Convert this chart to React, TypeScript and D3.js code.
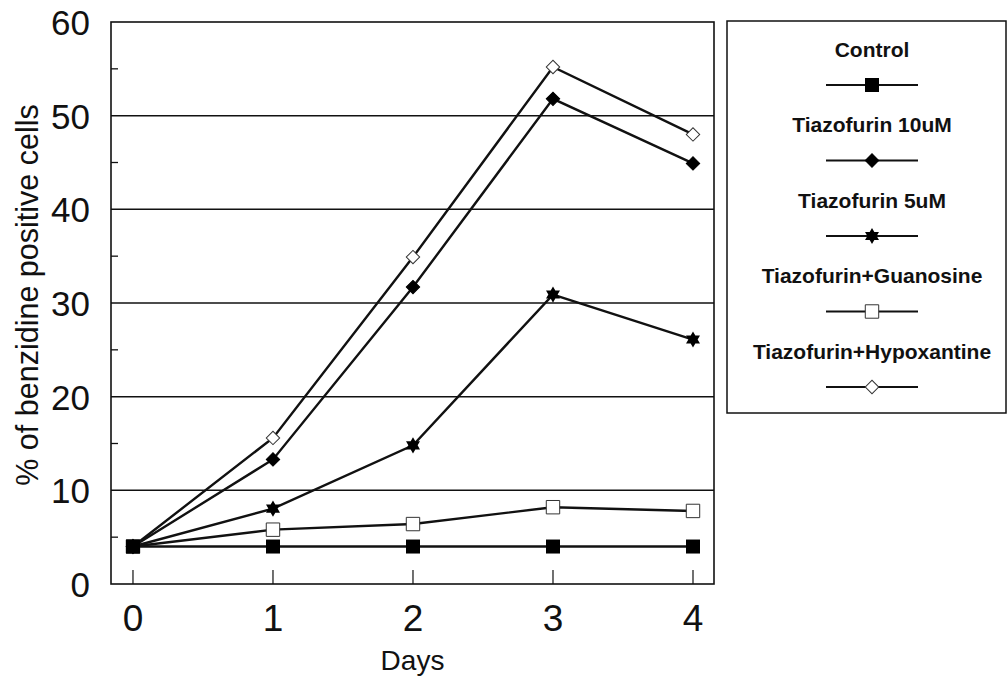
import React, { useEffect, useRef } from 'react'
import * as d3 from 'd3'

// values
const days = [0, 1, 2, 3, 4]
const control = [4, 4, 4, 4, 4]
const tiazo10 = [4, 13.3, 31.7, 51.8, 44.9]
const tiazo5 = [4, 8.05, 14.8, 30.9, 26.1]
const tiazoGuan = [4, 5.8, 6.4, 8.2, 7.8]
const tiazoHypo = [4, 15.6, 34.9, 55.2, 48]
const seriesNames = ['Control', 'Tiazofurin 10uM', 'Tiazofurin 5uM', 'Tiazofurin+Guanosine', 'Tiazofurin+Hypoxantine']
const yTicks = [0, 10, 20, 30, 40, 50, 60]
const yMinorTicks = [5, 15, 25, 35, 45, 55]
const gridTicks = [10, 20, 30, 40, 50]

const font = "'Liberation Sans', Arial, sans-serif"

// six pointed star (two triangles) for the 5uM series
const hexagram = {
    draw(ctx: any, size: number) {
        const R = Math.sqrt(size) / 2
        const r = R / Math.sqrt(3)
        for (let k = 0; k < 12; k++) {
            const a = (-90 + k * 30) * Math.PI / 180
            const rad = k % 2 === 0 ? R : r
            const px = rad * Math.cos(a), py = rad * Math.sin(a)
            if (k === 0) ctx.moveTo(px, py)
            else ctx.lineTo(px, py)
        }
        ctx.closePath()
    }
}

export default function App() {

    const chart = useRef<SVGSVGElement>(null)

    const width = 1008
    const height = 681
    const plot = { left: 111, right: 714, top: 22, bottom: 584 }

    useEffect(() => {
        const svg = d3.select(chart.current)
        svg.selectAll('*').remove()

        const x = d3.scaleLinear()
            .domain([-0.157, 4.15])
            .range([plot.left, plot.right])

        const y = d3.scaleLinear()
            .domain([0, 60])
            .range([plot.bottom, plot.top])

        // marker styles per series
        const styles = [
            { type: d3.symbolSquare, size: 196, rot: 0, fill: '#000', stroke: 'none' },
            { type: d3.symbolSquare, size: 90, rot: 45, fill: '#000', stroke: '#000' },
            { type: hexagram, size: 260, rot: 0, fill: '#000', stroke: 'none' },
            { type: d3.symbolSquare, size: 180, rot: 0, fill: '#fff', stroke: '#333' },
            { type: d3.symbolSquare, size: 90, rot: 45, fill: '#fff', stroke: '#333' },
        ]
        const seriesValues = [control, tiazo10, tiazo5, tiazoGuan, tiazoHypo]

        // gridlines
        svg.append('g')
            .selectAll('line')
            .data(gridTicks)
            .join('line')
            .attr('x1', plot.left)
            .attr('x2', plot.right)
            .attr('y1', d => y(d))
            .attr('y2', d => y(d))
            .attr('stroke', '#111')
            .attr('stroke-width', 1.5)

        // frame
        svg.append('rect')
            .attr('x', plot.left)
            .attr('y', plot.top)
            .attr('width', plot.right - plot.left)
            .attr('height', plot.bottom - plot.top)
            .attr('fill', 'none')
            .attr('stroke', '#111')
            .attr('stroke-width', 1.6)

        // y minor ticks (inside)
        svg.append('g')
            .selectAll('line')
            .data(yMinorTicks)
            .join('line')
            .attr('x1', plot.left)
            .attr('x2', plot.left + 7)
            .attr('y1', d => y(d))
            .attr('y2', d => y(d))
            .attr('stroke', '#111')
            .attr('stroke-width', 1.3)

        // x ticks (inside)
        svg.append('g')
            .selectAll('line')
            .data(days)
            .join('line')
            .attr('x1', d => x(d))
            .attr('x2', d => x(d))
            .attr('y1', plot.bottom)
            .attr('y2', plot.bottom - 14)
            .attr('stroke', '#111')
            .attr('stroke-width', 1.2)

        // y tick labels
        svg.append('g')
            .selectAll('text')
            .data(yTicks)
            .join('text')
            .attr('x', 90)
            .attr('y', d => y(d) + 13)
            .attr('text-anchor', 'end')
            .attr('font-family', font)
            .attr('font-size', 35)
            .attr('fill', '#111')
            .text(d => d)

        // x tick labels
        svg.append('g')
            .selectAll('text')
            .data(days)
            .join('text')
            .attr('x', d => x(d))
            .attr('y', 631)
            .attr('text-anchor', 'middle')
            .attr('font-family', font)
            .attr('font-size', 37)
            .attr('fill', '#111')
            .text(d => d)

        // axis titles
        svg.append('text')
            .attr('x', (plot.left + plot.right) / 2)
            .attr('y', 670)
            .attr('text-anchor', 'middle')
            .attr('font-family', font)
            .attr('font-size', 28)
            .attr('fill', '#111')
            .text('Days')

        svg.append('text')
            .attr('transform', 'translate(38,295) rotate(-90)')
            .attr('text-anchor', 'middle')
            .attr('font-family', font)
            .attr('font-size', 30.5)
            .attr('fill', '#111')
            .text('% of benzidine positive cells')

        const getLine = d3.line<number>()
            .x((d, i) => x(days[i]))
            .y(d => y(d))

        const marker = (s: any) => d3.symbol().type(s.type).size(s.size)()

        // draw series back to front so Control sits on top
        const order = [4, 3, 2, 1, 0]
        order.forEach(k => {
            const s = styles[k]
            const g = svg.append('g')
            g.append('path')
                .datum(seriesValues[k])
                .attr('fill', 'none')
                .attr('stroke', '#111')
                .attr('stroke-width', 2.4)
                .attr('d', getLine)
            g.selectAll('path.pt')
                .data(seriesValues[k])
                .join('path')
                .attr('class', 'pt')
                .attr('transform', (d, i) => `translate(${x(days[i])},${y(d)}) rotate(${s.rot})`)
                .attr('d', marker(s))
                .attr('fill', s.fill)
                .attr('stroke', s.stroke)
                .attr('stroke-width', 1)
        })

        // legend
        const legend = { left: 727, right: 1006, top: 21, bottom: 413, cx: 872 }
        svg.append('rect')
            .attr('x', legend.left)
            .attr('y', legend.top)
            .attr('width', legend.right - legend.left)
            .attr('height', legend.bottom - legend.top)
            .attr('fill', '#fff')
            .attr('stroke', '#111')
            .attr('stroke-width', 1.5)

        const item = svg.append('g')
            .selectAll('g')
            .data(seriesNames)
            .join('g')
            .attr('transform', (d, i) => `translate(${legend.cx},${49 + i * 75.5})`)

        item.append('text')
            .attr('y', 7.5)
            .attr('text-anchor', 'middle')
            .attr('font-family', font)
            .attr('font-weight', 'bold')
            .attr('font-size', 21)
            .attr('fill', '#111')
            .text(d => d)

        item.append('line')
            .attr('x1', -46)
            .attr('x2', 46)
            .attr('y1', 36)
            .attr('y2', 36)
            .attr('stroke', '#111')
            .attr('stroke-width', 2)

        item.append('path')
            .attr('transform', (d, i) => `translate(0,36) rotate(${styles[i].rot})`)
            .attr('d', (d, i) => marker(styles[i]))
            .attr('fill', (d, i) => styles[i].fill)
            .attr('stroke', (d, i) => styles[i].stroke)
            .attr('stroke-width', 1)
    }, [])

    return (
        <svg ref={chart} width={width} height={height}
            style={{ position: 'absolute', left: 0, top: 0, background: '#fff' }} />
    )
}
